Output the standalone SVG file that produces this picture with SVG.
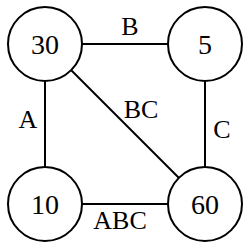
<svg xmlns="http://www.w3.org/2000/svg" width="250" height="250" viewBox="0 0 250 250">
<style>
.n{fill:#fff;stroke:#000;stroke-width:2}
.e{stroke:#000;stroke-width:2;fill:none}
text{font-family:'Liberation Serif','Times New Roman',serif;text-anchor:middle;fill:#000}
.t{font-size:28px}
.l{font-size:26px}
</style>
<rect width="250" height="250" fill="#fff"/>
<g id="edges">
<line class="e" x1="82" y1="44" x2="168" y2="44"/>
<line class="e" x1="45" y1="81" x2="45" y2="167"/>
<line class="e" x1="205" y1="81" x2="205" y2="167"/>
<line class="e" x1="82" y1="204" x2="168" y2="204"/>
<line class="e" x1="71" y1="70" x2="179" y2="178"/>
<text class="l" x="130" y="35" font-family="Liberation Serif, serif">B</text>
<text class="l" x="28" y="128" font-family="Liberation Serif, serif">A</text>
<text class="l" x="141" y="118" font-family="Liberation Serif, serif">BC</text>
<text class="l" x="222" y="138" font-family="Liberation Serif, serif">C</text>
<text class="l" x="120" y="229" font-family="Liberation Serif, serif">ABC</text>
</g>
<g id="n30"><circle class="n" cx="45" cy="44" r="37"/><text class="t" x="45" y="53.5" font-family="Liberation Serif, serif">30</text></g>
<g id="n5"><circle class="n" cx="205" cy="44" r="37"/><text class="t" x="205" y="53.5" font-family="Liberation Serif, serif">5</text></g>
<g id="n10"><circle class="n" cx="45" cy="204" r="37"/><text class="t" x="45" y="213.5" font-family="Liberation Serif, serif">10</text></g>
<g id="n60"><circle class="n" cx="205" cy="204" r="37"/><text class="t" x="205" y="213.5" font-family="Liberation Serif, serif">60</text></g>
</svg>
